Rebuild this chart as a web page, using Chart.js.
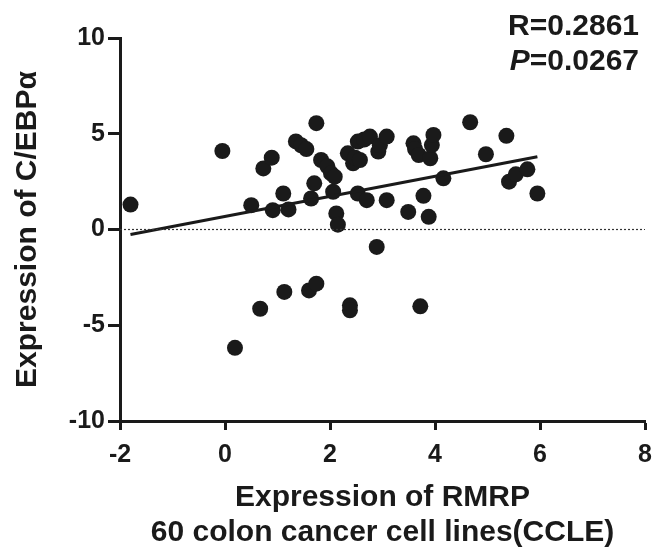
<!DOCTYPE html>
<html>
<head>
<meta charset="utf-8">
<script src="https://cdn.jsdelivr.net/npm/chart.js@4/dist/chart.umd.min.js"></script>
<style>
  html, body { margin: 0; padding: 0; background: #fff; }
  #wrap { width: 655px; height: 555px; }
</style>
</head>
<body>
<div id="wrap"><canvas id="chart"></canvas></div>
<script>
// RMRP expression (x) vs C/EBPa expression (y), 60 colon cancer cell lines
var rmrp = [-1.8, -0.05, 0.19, 0.5, 0.67, 0.73, 0.89, 0.91, 1.11, 1.13,
            1.21, 1.35, 1.45, 1.55, 1.6, 1.64, 1.7, 1.74, 1.74, 1.83,
            1.95, 2.02, 2.09, 2.06, 2.12, 2.15, 2.34, 2.38, 2.38, 2.44,
            2.48, 2.57, 2.53, 2.53, 2.65, 2.7, 2.76, 2.89, 2.92, 2.95,
            3.08, 3.08, 3.49, 3.59, 3.62, 3.69, 3.72, 3.78, 3.88, 3.91,
            3.94, 3.97, 4.16, 4.67, 4.97, 5.36, 5.41, 5.54, 5.76, 5.95];
var cebpa = [1.3, 4.1, -6.18, 1.27, -4.14, 3.19, 3.75, 1.01, 1.88, -3.26,
             1.05, 4.6, 4.4, 4.2, -3.18, 1.62, 2.41, 5.55, -2.83, 3.63,
             3.3, 2.93, 2.76, 1.97, 0.84, 0.25, 3.98, -3.96, -4.22, 3.46,
             3.75, 3.63, 4.59, 1.88, 4.7, 1.53, 4.85, -0.91, 4.07, 4.4,
             4.85, 1.53, 0.92, 4.5, 4.2, 3.89, -4.01, 1.76, 0.66, 3.72,
             4.41, 4.94, 2.67, 5.6, 3.93, 4.89, 2.5, 2.88, 3.14, 1.88];

// linear fit line and dotted zero line
var fitX = [-1.8, 5.95];
var fitY = [-0.26, 3.8];
var zeroX = [-2, 8];
var zeroY = [0, 0];

var statR = "R=0.2861";
var statP = "0.0267";

function pts(xs, ys) {
  return xs.map(function (x, i) { return { x: x, y: ys[i] }; });
}

var FONT = "'Liberation Sans', Arial, sans-serif";

var statsText = {
  id: 'statsText',
  afterDraw: function (chart) {
    var ctx = chart.ctx;
    var right = 639;
    ctx.save();
    ctx.fillStyle = '#1a1a1a';
    ctx.textBaseline = 'middle';
    ctx.textAlign = 'right';
    ctx.font = 'bold 30px ' + FONT;
    ctx.fillText(statR, right, 27);
    var restW = ctx.measureText('=' + statP).width;
    ctx.fillText('=' + statP, right, 62);
    ctx.font = 'italic bold 30px ' + FONT;
    ctx.fillText('P', right - restW, 62);
    ctx.restore();
  }
};

new Chart(document.getElementById('chart'), {
  type: 'scatter',
  data: {
    datasets: [
      {
        type: 'line',
        data: pts(zeroX, zeroY),
        borderColor: '#333',
        borderWidth: 1.2,
        borderDash: [2, 2],
        pointRadius: 0,
        fill: false
      },
      {
        type: 'line',
        data: pts(fitX, fitY),
        borderColor: '#1a1a1a',
        borderWidth: 3,
        pointRadius: 0,
        fill: false
      },
      {
        data: pts(rmrp, cebpa),
        backgroundColor: '#1a1a1a',
        borderColor: '#1a1a1a',
        pointRadius: 8,
        borderWidth: 0
      }
    ]
  },
  options: {
    responsive: true,
    maintainAspectRatio: false,
    animation: false,
    layout: { padding: { top: 38, right: 10, left: 0, bottom: 0 } },
    plugins: {
      legend: { display: false },
      tooltip: { enabled: false }
    },
    scales: {
      x: {
        type: 'linear',
        min: -2,
        max: 8,
        ticks: {
          stepSize: 2,
          color: '#1a1a1a',
          padding: 10,
          font: { family: FONT, size: 25, weight: 'bold' }
        },
        grid: {
          drawOnChartArea: false,
          drawTicks: true,
          tickLength: 9,
          tickWidth: 3,
          tickColor: '#1a1a1a'
        },
        border: { display: true, color: '#1a1a1a', width: 3 },
        title: {
          display: true,
          text: ['Expression of RMRP', '60 colon cancer cell lines(CCLE)'],
          color: '#1a1a1a',
          padding: { top: 0, bottom: 5 },
          font: { family: FONT, size: 30, weight: 'bold', lineHeight: 1.17 }
        },
        afterFit: function (s) {
          s.height = 134;
          s.paddingRight = 0;
          s.paddingLeft = 0;
        }
      },
      y: {
        type: 'linear',
        min: -10,
        max: 10,
        ticks: {
          stepSize: 5,
          color: '#1a1a1a',
          padding: 3,
          font: { family: FONT, size: 25, weight: 'bold' }
        },
        grid: {
          drawOnChartArea: false,
          drawTicks: true,
          tickLength: 12,
          tickWidth: 3,
          tickColor: '#1a1a1a'
        },
        border: { display: true, color: '#1a1a1a', width: 3 },
        title: {
          display: true,
          text: 'Expression of C/EBP\u03b1',
          color: '#1a1a1a',
          padding: { top: 10, bottom: 0 },
          font: { family: FONT, size: 30, weight: 'bold', lineHeight: 1.2 }
        },
        afterFit: function (s) { s.width = 120; }
      }
    }
  },
  plugins: [statsText]
});
</script>
</body>
</html>
